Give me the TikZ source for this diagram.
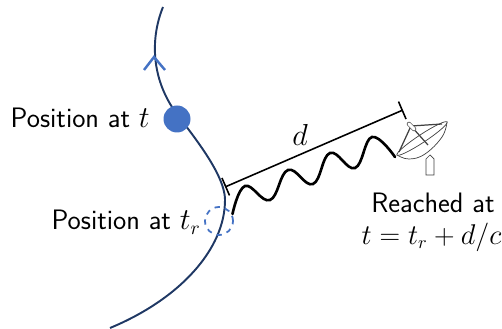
\documentclass[tikz,border=0pt]{standalone}
\usepackage{amsmath}
\usepackage{amssymb}
\usepackage{xcolor}
\usepackage{tikz}
\usetikzlibrary{arrows.meta}
\definecolor{pathnavy}{HTML}{1F3864}
\definecolor{markblue}{HTML}{4472C4}
\tikzset{
	lab/.style={font=\fontsize{16}{19}\selectfont\sffamily, inner sep=0pt, align=center},
	dishline/.style={draw=black!75, line width=0.4pt, fill=white}
}

\begin{document}
\begin{tikzpicture}
	\useasboundingbox (0,0) rectangle (10.04,6.58);

	% Worldline
	\draw[pathnavy, line width=1.1pt] (3.26,6.44) .. controls (3.02,5.85) and (3.02,5.10) .. (3.44,4.44) .. controls (3.70,4.05) and (4.50,3.15) .. (4.50,2.58) .. controls (4.50,1.60) and (3.60,0.60) .. (2.20,0.02);

	% Direction mark
	\coordinate (tipl) at (2.88,5.18);
	\coordinate (tipc) at (3.08,5.44);
	\coordinate (tipr) at (3.30,5.18);
	\draw[markblue, line width=1.4pt] (tipl) -- (tipc) -- (tipr);

	% Positions
	\node[circle, fill=markblue, minimum size=0.54cm, inner sep=0pt] (now) at (3.54,4.20) {};
	\node[circle, draw=markblue, dashed, line width=1pt, minimum size=0.56cm, inner sep=0pt] (ret) at (4.38,2.16) {};
	\node[lab, anchor=east] (nowlab) at (3.00,4.22) {Position at $t$};
	\node[lab, anchor=east] (retlab) at (4.02,2.14) {Position at $t_r$};

	% Signal
	\draw[black, line width=1.5pt, line cap=round] plot[smooth, tension=0.7] coordinates {(4.65,2.30) (4.90,2.86) (5.40,2.58) (5.76,3.18) (6.26,2.90) (6.60,3.52) (7.10,3.22) (7.44,3.84) (7.90,3.44)};

	% Distance
	\coordinate (dl) at (4.50,2.84);
	\coordinate (dr) at (8.06,4.38);
	\draw[line width=0.9pt, {Bar[width=0.38cm]}-{Bar[width=0.38cm]}] (dl) -- (dr);
	\node[lab] (dlab) at (6.00,3.88) {$d$};

	% Receiver
	\draw[dishline] (8.52,3.08) -- (8.52,3.40) -- (8.60,3.48) -- (8.68,3.40) -- (8.68,3.08) -- cycle;
	\draw[dishline] plot[smooth, tension=0.7] coordinates {(7.94,3.48) (8.18,3.40) (8.50,3.50) (8.84,3.84) (8.94,4.14)} -- cycle;
	\draw[dishline, rotate around={33.4:(8.44,3.81)}] (8.44,3.81) ellipse (0.60 and 0.08);
	\draw[dishline, line width=0.7pt] (8.22,4.06) -- (8.56,3.68);
	\draw[dishline, line width=0.7pt] (8.22,4.06) -- (8.84,4.10);
	\draw[dishline, line width=0.7pt] (8.22,4.06) -- (7.98,3.54);
	\draw[black!60, line width=2.6pt, line cap=round] (8.18,4.10) -- (8.28,4.00);
	\draw[white, line width=1.8pt, line cap=round] (8.18,4.10) -- (8.28,4.00);

	% Reception text
	\node[lab] (reachlab) at (8.66,2.52) {Reached at};
	\node[lab, scale=0.94] (timelab) at (8.63,1.84) {$t=t_r+d/c$};
\end{tikzpicture}
\end{document}
